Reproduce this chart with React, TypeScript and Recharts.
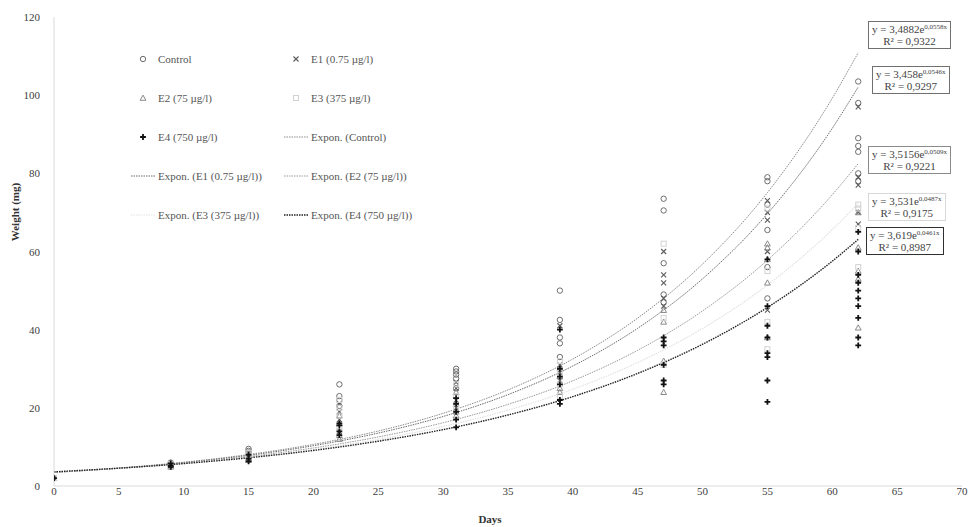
import React from 'react';
import { ComposedChart, Scatter, Line, XAxis, YAxis, Legend, Label } from 'recharts';

const xTicks = [0, 5, 10, 15, 20, 25, 30, 35, 40, 45, 50, 55, 60, 65, 70];
const yTicks = [0, 20, 40, 60, 80, 100, 120];

// [day, weight mg]
const controlPoints = [
  [0, 2.0], [9, 6.0], [9, 5.7], [15, 9.5], [15, 9.0], [15, 8.6], [22, 26], [22, 23], [22, 22], [22, 20.5],
  [31, 30], [31, 29.3], [31, 28.5], [31, 27.5], [31, 25], [39, 50], [39, 42.5], [39, 38], [39, 36.5], [39, 33],
  [47, 73.5], [47, 70.5], [47, 57], [47, 49], [47, 47], [55, 79], [55, 78], [55, 72], [55, 65.5], [55, 56], [55, 48],
  [62, 103.5], [62, 98], [62, 89], [62, 87], [62, 85.5], [62, 80], [62, 78],
];
const e1Points = [
  [0, 2], [9, 5.3], [15, 8.0], [15, 7.4], [22, 21], [22, 19], [22, 17], [22, 14], [31, 26.5], [31, 25], [31, 22], [31, 20],
  [39, 41], [39, 31], [39, 29], [39, 27], [47, 60], [47, 54], [47, 52], [47, 48], [47, 46],
  [55, 73], [55, 70], [55, 68], [55, 60], [55, 45], [62, 97], [62, 79], [62, 77], [62, 70], [62, 67],
];
const e2Points = [
  [0, 2], [9, 4.9], [15, 7.0], [15, 6.6], [22, 18], [22, 16], [22, 13], [22, 12], [31, 24], [31, 21], [31, 19], [31, 18],
  [39, 30], [39, 28], [39, 25], [39, 24], [47, 45], [47, 42], [47, 32], [47, 24],
  [55, 62], [55, 61], [55, 58], [55, 52], [55, 38], [62, 70], [62, 61], [62, 55], [62, 53], [62, 40.5],
];
const e3Points = [
  [0, 2], [9, 5.6], [15, 8.5], [15, 7.8], [22, 22], [22, 20], [22, 18], [22, 15], [31, 26], [31, 23], [31, 20],
  [39, 32], [39, 29], [39, 26], [39, 23], [47, 62], [47, 43], [47, 31],
  [55, 71], [55, 55], [55, 42], [55, 35], [62, 72], [62, 71], [62, 66], [62, 56],
];
const e4Points = [
  [0, 2], [9, 5.8], [9, 5.2], [9, 4.9], [15, 8.0], [15, 7.0], [15, 6.3], [22, 16], [22, 15.5], [22, 14], [22, 13],
  [31, 22.5], [31, 21], [31, 19], [31, 17], [31, 15], [39, 40], [39, 30], [39, 28], [39, 26], [39, 22], [39, 21],
  [47, 38], [47, 37], [47, 36], [47, 31], [47, 27], [47, 26],
  [55, 58], [55, 46], [55, 41], [55, 38], [55, 34], [55, 33], [55, 27], [55, 21.5],
  [62, 65], [62, 60], [62, 54], [62, 52], [62, 50], [62, 48], [62, 46], [62, 43], [62, 38], [62, 36],
];

// trendline values
const trendDays = [0, 5, 10, 15, 20, 25, 30, 35, 40, 45, 50, 55, 60, 62];
const controlTrend = [3.49, 4.61, 6.09, 8.06, 10.65, 14.07, 18.6, 24.59, 32.5, 42.97, 56.79, 75.07, 99.22, 110.9];
const e1Trend = [3.46, 4.54, 5.97, 7.84, 10.31, 13.54, 17.79, 23.38, 30.71, 40.36, 53.02, 69.67, 91.53, 102.1];
const e2Trend = [3.52, 4.53, 5.85, 7.54, 9.73, 12.55, 16.19, 20.88, 26.93, 34.73, 44.8, 57.79, 74.53, 82.5];
const e3Trend = [3.53, 4.5, 5.75, 7.33, 9.35, 11.93, 15.22, 19.42, 24.77, 31.6, 40.31, 51.43, 65.6, 72.3];
const e4Trend = [3.62, 4.56, 5.74, 7.23, 9.1, 11.46, 14.43, 18.17, 22.88, 28.81, 36.27, 45.68, 57.53, 63.1];

const eqCoef = ['3,4882', '3,458', '3,5156', '3,531', '3,619'];
const eqExp = ['0,0558', '0,0546', '0,0509', '0,0487', '0,0461'];
const eqR2 = ['0,9322', '0,9297', '0,9221', '0,9175', '0,8987'];

const legendLabels = [
  'Control', 'E1 (0.75 µg/l)', 'E2 (75 µg/l)', 'E3 (375 µg/l)', 'E4 (750 µg/l)',
  'Expon. (Control)', 'Expon. (E1 (0.75 µg/l))', 'Expon. (E2 (75 µg/l))', 'Expon. (E3 (375 µg/l))', 'Expon. (E4 (750 µg/l))',
];

const FONT = "'Liberation Serif', 'Times New Roman', serif";

const toXY = (pts: number[][]) => pts.map(([x, y]) => ({ x, y }));
const trend = (vals: number[]) => trendDays.map((d, i) => ({ x: d, y: vals[i] }));

const C_CIRCLE = '#6e6e6e';
const C_X = '#5a5a5a';
const C_TRI = '#8a8a8a';
const C_SQ = '#d2d2d2';
const C_PLUS = '#111111';

const CircleShape = (p: any) => <circle cx={p.cx} cy={p.cy} r={2.7} fill="none" stroke={C_CIRCLE} strokeWidth={1} />;
const XShape = (p: any) => {
  const s = 2.5;
  return <path d={`M${p.cx - s},${p.cy - s}L${p.cx + s},${p.cy + s}M${p.cx - s},${p.cy + s}L${p.cx + s},${p.cy - s}`} stroke={C_X} strokeWidth={1.1} fill="none" />;
};
const TriShape = (p: any) => {
  const s = 2.9;
  return <path d={`M${p.cx},${p.cy - s}L${p.cx + s},${p.cy + s * 0.8}L${p.cx - s},${p.cy + s * 0.8}Z`} stroke={C_TRI} strokeWidth={1} fill="none" />;
};
const SqShape = (p: any) => <rect x={p.cx - 2.5} y={p.cy - 2.5} width={5} height={5} stroke={C_SQ} strokeWidth={1} fill="none" />;
const PlusShape = (p: any) => {
  const s = 2.9;
  return <path d={`M${p.cx - s},${p.cy}L${p.cx + s},${p.cy}M${p.cx},${p.cy - s}L${p.cx},${p.cy + s}`} stroke={C_PLUS} strokeWidth={1.8} fill="none" />;
};

const markerFor = (i: number) => {
  const c = { cx: 6, cy: 6 };
  return [CircleShape, XShape, TriShape, SqShape, PlusShape][i](c);
};
const lineStyles = [
  { stroke: '#8c8c8c', dash: '1.5 1', w: 1 },
  { stroke: '#6a6a6a', dash: '1.5 1', w: 1 },
  { stroke: '#9a9a9a', dash: '1.5 1', w: 1 },
  { stroke: '#e2e2e2', dash: '1.5 1', w: 1.2 },
  { stroke: '#222222', dash: '1.5 1', w: 1.4 },
];

const legendCols = [131, 284];
const legendRows = [59, 98, 137, 176, 215];

const renderLegend = () => (
  <div style={{ position: 'relative', width: 300, height: 200 }}>
    {legendLabels.map((label, i) => {
      const col = i % 2;
      const row = Math.floor(i / 2);
      const left = legendCols[col] - 120;
      const top = legendRows[row] - 40;
      const isLine = i >= 5;
      const ls = isLine ? lineStyles[i - 5] : null;
      return (
        <div key={label} style={{ position: 'absolute', left, top: top - 7, height: 14, display: 'flex', alignItems: 'center', whiteSpace: 'nowrap' }}>
          <svg width={25} height={12} style={{ display: 'block' }}>
            {isLine ? (
              <line x1={0} y1={6} x2={24} y2={6} stroke={ls!.stroke} strokeWidth={ls!.w} strokeDasharray={ls!.dash} />
            ) : (
              <g transform="translate(6,0)">{markerFor(i)}</g>
            )}
          </svg>
          <span style={{ marginLeft: 2, fontFamily: FONT, fontSize: 11, color: '#555' }}>{label}</span>
        </div>
      );
    })}
  </div>
);

const boxStyles = [
  { left: 868, top: 21, border: '1.5px solid #707070' },
  { left: 872, top: 66, border: '1.5px solid #707070' },
  { left: 868, top: 146, border: '1.5px solid #8a8a8a' },
  { left: 868, top: 193, border: '1px solid #d8d8d8' },
  { left: 866, top: 227, border: '1.5px solid #303030' },
];

const WeightLabel = () => (
  <text x={15} y={212} transform="rotate(-90 15 212)" textAnchor="middle" dominantBaseline="central"
    style={{ fontFamily: FONT, fontSize: 11, fontWeight: 'bold', fill: '#333' }}>
    Weight (mg)
  </text>
);

const XTick = (p: any) => (
  <text x={p.x} y={p.y + 9} textAnchor="middle" fontFamily={FONT} fontSize={11} fill="#404040">{p.payload.value}</text>
);
const YTick = (p: any) => (
  <text x={p.x} y={p.y + 4} textAnchor="end" fontFamily={FONT} fontSize={11} fill="#404040">{p.payload.value}</text>
);

export default function App() {
  const series = [controlPoints, e1Points, e2Points, e3Points, e4Points];
  const shapes = [CircleShape, XShape, TriShape, SqShape, PlusShape];
  const trends = [controlTrend, e1Trend, e2Trend, e3Trend, e4Trend];
  return (
    <div style={{ position: 'absolute', left: 0, top: 0, width: 968, height: 527, background: '#fff', fontFamily: FONT }}>
      <ComposedChart width={968} height={527} margin={{ top: 17, right: 6, left: 0, bottom: 1 }}>
        <XAxis
          dataKey="x"
          type="number"
          domain={[0, 70]}
          ticks={xTicks}
          interval={0}
          allowDataOverflow
          height={40}
          axisLine={{ stroke: '#d9d9d9' }}
          tickLine={false}
          tickSize={0}
          tickMargin={0}
          tick={XTick}
          label={{ value: 'Days', position: 'insideBottom', offset: 3, dx: -18, style: { fontFamily: FONT, fontSize: 11, fontWeight: 'bold', fill: '#333' } }}
        />
        <YAxis
          type="number"
          domain={[0, 120]}
          ticks={yTicks}
          interval={0}
          width={54}
          axisLine={{ stroke: '#d9d9d9' }}
          tickLine={false}
          tickSize={8}
          tickMargin={6}
          tick={YTick}
        >
          <Label content={WeightLabel} />
        </YAxis>
        <Legend
          layout="vertical"
          align="center"
          verticalAlign="middle"
          content={renderLegend}
          wrapperStyle={{ left: 120, top: 40, width: 300, height: 200 }}
        />
        {trends.map((t, i) => (
          <Line
            key={'t' + i}
            data={trend(t)}
            dataKey="y"
            type="monotone"
            stroke={lineStyles[i].stroke}
            strokeWidth={lineStyles[i].w}
            strokeDasharray={lineStyles[i].dash}
            dot={false}
            activeDot={false}
            isAnimationActive={false}
            legendType="none"
          />
        ))}
        {series.map((s, i) => (
          <Scatter key={'s' + i} data={toXY(s)} dataKey="y" shape={shapes[i]} isAnimationActive={false} legendType="none" />
        ))}
      </ComposedChart>
      {boxStyles.map((b, i) => (
        <div
          key={'eq' + i}
          style={{
            position: 'absolute', left: b.left, top: b.top, border: b.border, background: '#fff',
            padding: '1px 3px', fontFamily: FONT, fontSize: 11, color: '#444', lineHeight: '12px', textAlign: 'center', whiteSpace: 'nowrap',
          }}
        >
          <div>y = {eqCoef[i]}e<sup style={{ fontSize: 7, verticalAlign: 'top', lineHeight: '8px' }}>{eqExp[i]}x</sup></div>
          <div>R² = {eqR2[i]}</div>
        </div>
      ))}
    </div>
  );
}
